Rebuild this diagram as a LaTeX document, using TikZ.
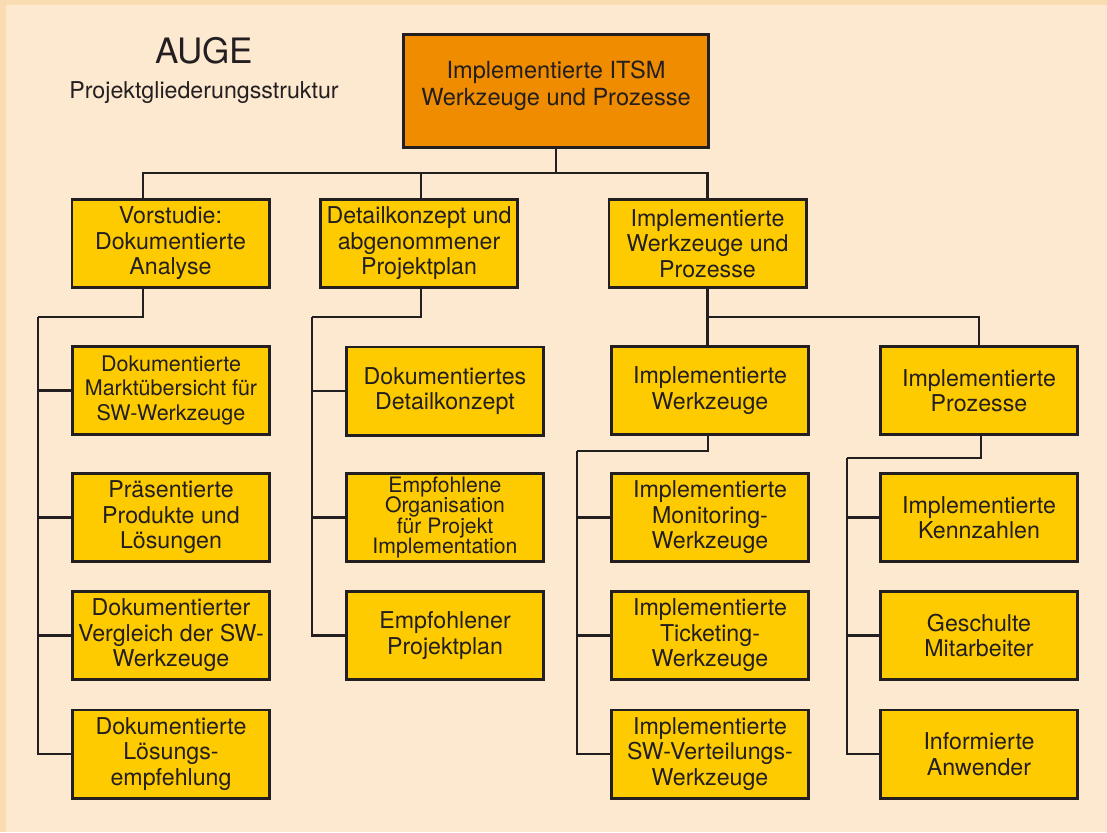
\documentclass[tikz,border=0pt]{standalone}
\usepackage{fontspec}
\setmainfont{TeX Gyre Heros}
\usetikzlibrary{calc}
\definecolor{bgout}{HTML}{FADCB3}
\definecolor{bgin}{HTML}{FDE8D0}
\definecolor{boxyel}{HTML}{FECB00}
\definecolor{boxora}{HTML}{F08C00}
\definecolor{ink}{HTML}{231F20}
\tikzset{
  box/.style={draw=ink, line width=2.8pt, fill=boxyel, text=ink, align=center,
    inner sep=0pt, minimum width=197.2pt, minimum height=88.2pt,
    font=\fontsize{23.2}{25.5}\selectfont},
  smallbox/.style={box, font=\fontsize{21.5}{24.5}\selectfont},
  tightbox/.style={box, font=\fontsize{21.2}{20.5}\selectfont},
  topbox/.style={box, fill=boxora, minimum width=305.2pt, minimum height=113.2pt},
  toptext/.style={text=ink, align=center, inner sep=0pt, font=\fontsize{23.6}{27}\selectfont},
  link/.style={draw=ink, line width=2.7pt, line join=miter}
}
\begin{document}
\begin{tikzpicture}[x=1pt,y=-1pt]
\useasboundingbox (0,0) rectangle (1107,832);
\fill[bgout] (0,0) rectangle (1107,832);
\fill[bgin] (6,5) rectangle (1107,832);

% title
\node[anchor=base, text=ink, font=\fontsize{35}{40}\selectfont] (auge) at (204,64) {AUGE};
\node[anchor=base, text=ink, font=\fontsize{23.2}{26}\selectfont] (sub) at (204,99) {Projektgliederungsstruktur};

% top
\node[topbox] (top) at (556,91) {};
\node[toptext] (toplabel) at ([yshift=5pt]top.center) {Implementierte ITSM\\Werkzeuge und Prozesse};

% level 2
\node[box] (L2a) at (170.5,243.5) {Vorstudie:\\Dokumentierte\\Analyse};
\node[box] (L2b) at (419,243.5) {Detailkonzept und\\abgenommener\\Projektplan};
\node[box] (L2c) at (707.5,243.5) {Implementierte\\Werkzeuge und\\Prozesse};

% column A
\node[smallbox] (A1) at (171,390.5) {Dokumentierte\\Marktübersicht für\\SW-Werkzeuge};
\node[box] (A2) at (171,517.5) {Präsentierte\\Produkte und\\Lösungen};
\node[box] (A3) at (171,635.5) {Dokumentierter\\Vergleich der SW-\\Werkzeuge};
\node[box] (A4) at (171,754) {Dokumentierte\\Lösungs-\\empfehlung};

% column B
\node[box] (B1) at (445,391) {Dokumentiertes\\Detailkonzept};
\node[tightbox] (B2) at (445,517.5) {Empfohlene\\Organisation\\für Projekt\\Implementation};
\node[box] (B3) at (445,635.5) {Empfohlener\\Projektplan};

% column C
\node[box] (C1) at (710,390.5) {Implementierte\\Werkzeuge};
\node[box] (C2) at (710,517.5) {Implementierte\\Monitoring-\\Werkzeuge};
\node[box] (C3) at (710,635.5) {Implementierte\\Ticketing-\\Werkzeuge};
\node[box] (C4) at (710,754) {Implementierte\\SW-Verteilungs-\\Werkzeuge};

% column D
\node[box] (D1) at (979,390.5) {Implementierte\\Prozesse};
\node[box] (D2) at (979,517.5) {Implementierte\\Kennzahlen};
\node[box] (D3) at (979,635.5) {Geschulte\\Mitarbeiter};
\node[box] (D4) at (979,754) {Informierte\\Anwender};

% connectors: top level
\coordinate (busT) at (556,173);
\draw[link] (top.south) -- (busT);
\draw[link] ([xshift=-27.5pt]L2a.north) |- (busT) -| (L2c.north);
\draw[link] ([xshift=2pt]L2b.north) |- (busT);

% Vorstudie branch
\coordinate (ca) at (38,317);
\draw[link] ([xshift=-27.5pt]L2a.south) |- (ca);
\draw[link] (ca) |- (A4.west);
\draw[link] (A1.west) -- (A1.west -| ca);
\draw[link] (A2.west) -- (A2.west -| ca);
\draw[link] (A3.west) -- (A3.west -| ca);

% Detailkonzept branch
\coordinate (cb) at (312,317);
\draw[link] ([xshift=2pt]L2b.south) |- (cb);
\draw[link] (cb) |- (B3.west);
\draw[link] (B1.west) -- (B1.west -| cb);
\draw[link] (B2.west) -- (B2.west -| cb);

% Implementierte Werkzeuge und Prozesse branch
\coordinate (cc) at (979,317);
\draw[link] (L2c.south) |- (cc) -- (D1.north);
\draw[link] (L2c.south) -- (L2c.south |- C1.north);

% Werkzeuge branch
\coordinate (cC) at (577,451);
\draw[link] ([xshift=-2pt]C1.south) |- (cC);
\draw[link] (cC) |- (C4.west);
\draw[link] (C2.west) -- (C2.west -| cC);
\draw[link] (C3.west) -- (C3.west -| cC);

% Prozesse branch
\coordinate (cD) at (847,458);
\draw[link] ([xshift=2pt]D1.south) |- (cD);
\draw[link] (cD) |- (D4.west);
\draw[link] (D2.west) -- (D2.west -| cD);
\draw[link] (D3.west) -- (D3.west -| cD);
\end{tikzpicture}
\end{document}
